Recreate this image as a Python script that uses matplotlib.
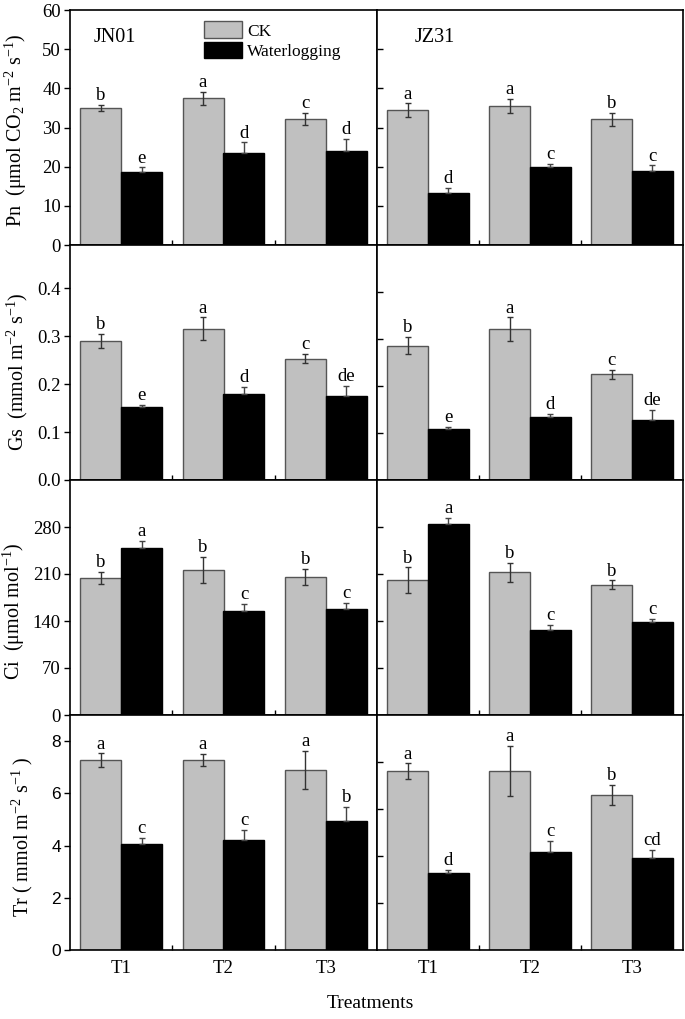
import matplotlib
matplotlib.use('Agg')
import matplotlib.pyplot as plt
import numpy as np
from matplotlib.patches import Patch

plt.rcParams['font.family'] = ['Liberation Serif', 'DejaVu Serif']
plt.rcParams['mathtext.fontset'] = 'custom'
plt.rcParams['mathtext.rm'] = 'Liberation Serif'
plt.rcParams['mathtext.it'] = 'Liberation Serif:italic'
plt.rcParams['mathtext.default'] = 'regular'

treatments = ['T1', 'T2', 'T3']
cultivars = ['JN01', 'JZ31']
series_names = ['CK', 'Waterlogging']

# Pn
pn_jn01_ck = [34.9, 37.5, 32.2]
pn_jn01_ck_err = [0.8, 1.65, 1.6]
pn_jn01_wl = [18.6, 23.6, 24.1]
pn_jn01_wl_err = [1.2, 2.6, 2.9]
pn_jz31_ck = [34.4, 35.5, 32.1]
pn_jz31_ck_err = [1.75, 1.8, 1.7]
pn_jz31_wl = [13.3, 19.9, 19.0]
pn_jz31_wl_err = [1.3, 0.9, 1.3]
pn_jn01_ck_let = ['b', 'a', 'c']
pn_jn01_wl_let = ['e', 'd', 'd']
pn_jz31_ck_let = ['a', 'a', 'b']
pn_jz31_wl_let = ['d', 'c', 'c']

# Gs
gs_jn01_ck = [0.290, 0.315, 0.253]
gs_jn01_ck_err = [0.014, 0.024, 0.010]
gs_jn01_wl = [0.153, 0.179, 0.175]
gs_jn01_wl_err = [0.004, 0.015, 0.021]
gs_jz31_ck = [0.286, 0.321, 0.2245]
gs_jz31_ck_err = [0.018, 0.025, 0.009]
gs_jz31_wl = [0.109, 0.135, 0.128]
gs_jz31_wl_err = [0.004, 0.005, 0.021]
gs_jn01_ck_let = ['b', 'a', 'c']
gs_jn01_wl_let = ['e', 'd', 'de']
gs_jz31_ck_let = ['b', 'a', 'c']
gs_jz31_wl_let = ['e', 'd', 'de']

# Ci
ci_jn01_ck = [204.2, 216.0, 205.7]
ci_jn01_ck_err = [9.4, 19.8, 12.4]
ci_jn01_wl = [248.8, 154.6, 157.6]
ci_jn01_wl_err = [10.9, 11.4, 9.9]
ci_jz31_ck = [201.0, 212.5, 194.0]
ci_jz31_ck_err = [18.7, 13.7, 6.5]
ci_jz31_wl = [283.9, 126.7, 138.2]
ci_jz31_wl_err = [9.5, 8.0, 4.5]
ci_jn01_ck_let = ['b', 'b', 'b']
ci_jn01_wl_let = ['a', 'c', 'c']
ci_jz31_ck_let = ['b', 'b', 'b']
ci_jz31_wl_let = ['a', 'c', 'c']

# Tr
tr_jn01_ck = [7.27, 7.27, 6.90]
tr_jn01_ck_err = [0.26, 0.24, 0.72]
tr_jn01_wl = [4.05, 4.23, 4.93]
tr_jn01_wl_err = [0.23, 0.36, 0.55]
tr_jz31_ck = [7.61, 7.63, 6.61]
tr_jz31_ck_err = [0.33, 1.06, 0.43]
tr_jz31_wl = [3.26, 4.18, 3.93]
tr_jz31_wl_err = [0.14, 0.47, 0.31]
tr_jn01_ck_let = ['a', 'a', 'a']
tr_jn01_wl_let = ['c', 'c', 'b']
tr_jz31_ck_let = ['a', 'a', 'b']
tr_jz31_wl_let = ['d', 'c', 'cd']

rows = [
    dict(data=[(pn_jn01_ck, pn_jn01_ck_err, pn_jn01_ck_let, pn_jn01_wl, pn_jn01_wl_err, pn_jn01_wl_let),
               (pn_jz31_ck, pn_jz31_ck_err, pn_jz31_ck_let, pn_jz31_wl, pn_jz31_wl_err, pn_jz31_wl_let)],
         ylims=[(0, 60), (0, 60)], ticks=[[0, 10, 20, 30, 40, 50, 60], [10, 20, 30, 40, 50]],
         ticklabels=['0', '10', '20', '30', '40', '50', '60'], tickfont='serif',
         label='Pn  (μmol CO$_2$ m$^{\u2212 2}$ s$^{\u2212 1}$)', lpos=(15.5, 130)),
    dict(data=[(gs_jn01_ck, gs_jn01_ck_err, gs_jn01_ck_let, gs_jn01_wl, gs_jn01_wl_err, gs_jn01_wl_let),
               (gs_jz31_ck, gs_jz31_ck_err, gs_jz31_ck_let, gs_jz31_wl, gs_jz31_wl_err, gs_jz31_wl_let)],
         ylims=[(0, 0.49), (0, 0.5)], ticks=[[0, 0.1, 0.2, 0.3, 0.4], [0.1, 0.2, 0.3, 0.4]],
         ticklabels=['0.0', '0.1', '0.2', '0.3', '0.4'], tickfont='serif',
         label='Gs  (mmol m$^{\u2212 2}$ s$^{\u2212 1}$)', lpos=(17.5, 372)),
    dict(data=[(ci_jn01_ck, ci_jn01_ck_err, ci_jn01_ck_let, ci_jn01_wl, ci_jn01_wl_err, ci_jn01_wl_let),
               (ci_jz31_ck, ci_jz31_ck_err, ci_jz31_ck_let, ci_jz31_wl, ci_jz31_wl_err, ci_jz31_wl_let)],
         ylims=[(0, 350), (0, 350)], ticks=[[0, 70, 140, 210, 280], [70, 140, 210, 280]],
         ticklabels=['0', '70', '140', '210', '280'], tickfont='serif',
         label='Ci  (μmol mol$^{-1}$)', lpos=(13.5, 611)),
    dict(data=[(tr_jn01_ck, tr_jn01_ck_err, tr_jn01_ck_let, tr_jn01_wl, tr_jn01_wl_err, tr_jn01_wl_let),
               (tr_jz31_ck, tr_jz31_ck_err, tr_jz31_ck_let, tr_jz31_wl, tr_jz31_wl_err, tr_jz31_wl_let)],
         ylims=[(0, 9), (0, 10)], ticks=[[0, 2, 4, 6, 8], [2, 4, 6, 8]],
         ticklabels=['0', '2', '4', '6', '8'], tickfont='sans',
         label='Tr ( mmol m$^{-2}$ s$^{-1}$ )', lpos=(22.5, 837)),
]

W, H = 685, 1019
fig = plt.figure(figsize=(W / 100, H / 100), dpi=100)

col_x = [(70, 307), (377, 306)]
row_top = [10, 245, 480, 715]
row_h = 235

ck_color = '#c0c0c0'
ck_edge = '#555555'
wl_color = '#000000'
bw = 0.4
x = np.arange(len(treatments))

for ri, row in enumerate(rows):
    for ci in range(2):
        x0, w = col_x[ci]
        top = row_top[ri]
        ax = fig.add_axes([x0 / W, 1 - (top + row_h) / H, w / W, row_h / H])
        ck, ck_err, ck_let, wl, wl_err, wl_let = row['data'][ci]
        ax.bar(x - bw / 2, ck, bw, color=ck_color, edgecolor=ck_edge, linewidth=1.0, zorder=2)
        ax.bar(x + bw / 2, wl, bw, color=wl_color, edgecolor='black', linewidth=1.0, zorder=2)
        ax.errorbar(x - bw / 2, ck, yerr=ck_err, fmt='none', ecolor='#333333',
                    elinewidth=1.0, capsize=2.5, capthick=1.0, zorder=3)
        ax.errorbar(x + bw / 2, wl, yerr=[np.zeros(3), wl_err], fmt='none', ecolor='#444444',
                    elinewidth=1.0, capsize=2.5, capthick=1.0, zorder=3)
        for i in range(3):
            ax.annotate(ck_let[i], (x[i] - bw / 2, ck[i] + ck_err[i]), xytext=(0, 3.5),
                        textcoords='offset points', ha='center', va='baseline', fontsize=13.5)
            ax.annotate(wl_let[i], (x[i] + bw / 2, wl[i] + wl_err[i]), xytext=(0, 3.5),
                        textcoords='offset points', ha='center', va='baseline', fontsize=13.5)
        ax.set_xlim(-0.5, 2.5)
        ax.set_ylim(*row['ylims'][ci])
        ax.set_yticks(row['ticks'][ci])
        ax.set_xticks(x)
        ax.set_xticks([0.5, 1.5], minor=True)
        ax.tick_params(axis='x', which='major', length=0, pad=7)
        ax.tick_params(axis='x', which='minor', direction='in', length=3.5, width=1.0)
        if ri == 3:
            ax.set_xticklabels(treatments, fontsize=13.5)
        else:
            ax.set_xticklabels([])
        if ci == 0:
            ax.tick_params(axis='y', direction='out', length=4.5, width=1.0, pad=2)
            if row['tickfont'] == 'sans':
                ax.set_yticklabels(row['ticklabels'], fontsize=12.5, family=['Liberation Sans', 'DejaVu Sans'])
            else:
                ax.set_yticklabels(row['ticklabels'], fontsize=13.5)
        else:
            ax.tick_params(axis='y', direction='in', length=4.5, width=1.0)
            ax.set_yticklabels([])
        for s in ax.spines.values():
            s.set_linewidth(1.2)
        if ri == 0:
            ax.text(0.076 if ci == 0 else 0.122, 0.885, cultivars[ci], transform=ax.transAxes,
                    fontsize=14.5, ha='left', va='center')
            if ci == 0:
                handles = [Patch(facecolor=ck_color, edgecolor=ck_edge, linewidth=1.0),
                           Patch(facecolor=wl_color, edgecolor='black', linewidth=1.0)]
                ax.legend(handles, series_names, loc='upper left', bbox_to_anchor=(0.436, 0.952),
                          frameon=False, fontsize=12.5, handlelength=2.2, handleheight=1.1,
                          borderaxespad=0, borderpad=0, labelspacing=0.12, handletextpad=0.3)
    fig.text(row['lpos'][0] / W, 1 - row['lpos'][1] / H, row['label'], rotation=90,
             ha='center', va='center', fontsize=14.5)

fig.text(370.5 / W, 1 - 1003 / H, 'Treatments', ha='center', va='center', fontsize=14)

fig.savefig('out.png', dpi=100)
